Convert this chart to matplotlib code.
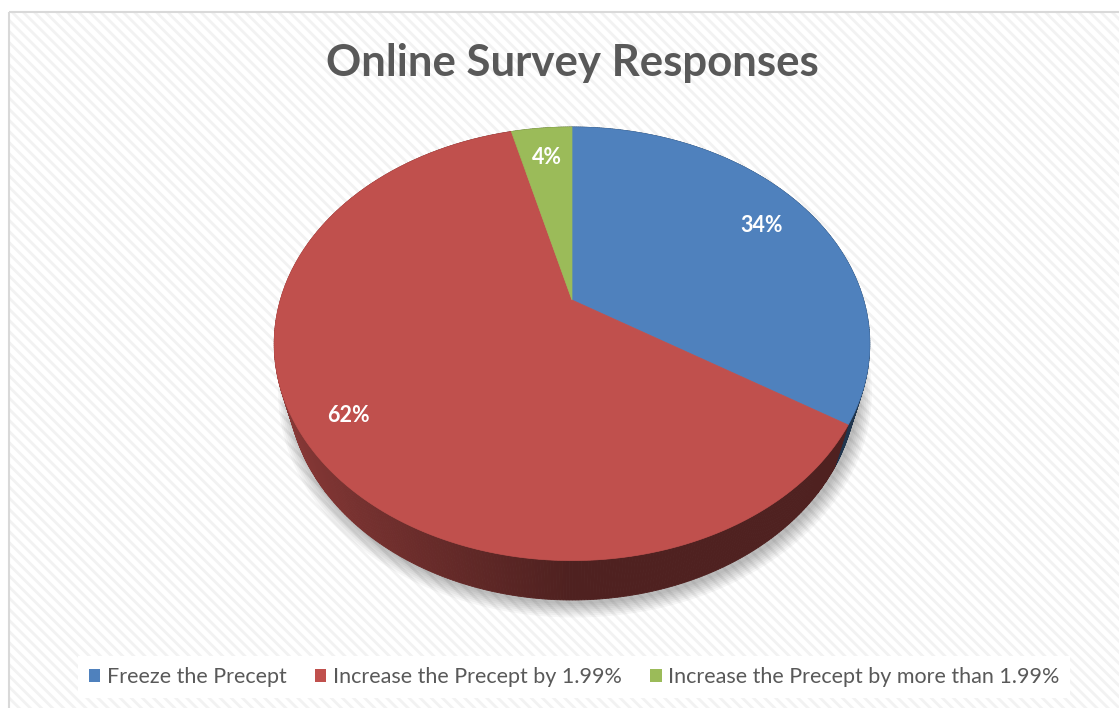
import numpy as np
import matplotlib
matplotlib.use('Agg')
import matplotlib.pyplot as plt
from matplotlib.patches import Polygon, Rectangle, Patch
from matplotlib.colors import to_rgb

# data
labels = ['Freeze the Precept', 'Increase the Precept by 1.99%',
          'Increase the Precept by more than 1.99%']
shares = [34, 62, 4]
colors = ['#4F81BD', '#C0504D', '#9BBB59']
label_r = [0.8, 0.85, 0.8]

plt.rcParams['font.family'] = ['Lato', 'DejaVu Sans']
plt.rcParams['hatch.linewidth'] = 2.0
plt.rcParams['hatch.color'] = '#F2F2F2'

W, H = 1119, 708
fig = plt.figure(figsize=(W / 100, H / 100), dpi=100)
ax = fig.add_axes([0, 0, 1, 1])
ax.set_xlim(0, W)
ax.set_ylim(H, 0)
ax.axis('off')

# chart area background with diagonal stripes
ax.add_patch(Rectangle((9, 12), W, H, facecolor='white', edgecolor='#F2F2F2',
                       hatch='\\\\\\', linewidth=0, zorder=0))
ax.add_patch(Rectangle((9, 12), W, H, fill=False, edgecolor='#D9D9D9',
                       linewidth=1.5, zorder=1))

# simple perspective for the tilted pie
cx, cy = 572, 300
F, d = 1012, 3.47
alpha = np.arcsin(0.713)
h = 0.22


def proj(theta, r=1.0, z=0.0):
    u = r * np.sin(theta)
    v = r * np.cos(theta)
    w = d + v * np.cos(alpha) - z * np.sin(alpha)
    x = cx + F * u / w
    y = cy - F * (v * np.sin(alpha) + z * np.cos(alpha)) / w
    return x, y


# soft shadow under the pie
tt = np.linspace(0, 2 * np.pi, 400)
for k in range(8):
    sx, sy = proj(tt, 1.0 + 0.006 * k, -h)
    ax.add_patch(Polygon(np.column_stack([sx + 3, sy + 4]), closed=True,
                         facecolor='#000000', alpha=0.035, linewidth=0, zorder=2))

bounds = np.deg2rad(np.concatenate([[0], np.cumsum(shares)]) * 3.6)

# outer side walls
strips = []
for i, c in enumerate(colors):
    a0, a1 = bounds[i], bounds[i + 1]
    n = max(2, int(np.rad2deg(a1 - a0) / 0.5))
    th = np.linspace(a0, a1, n + 1)
    base = np.array(to_rgb(c))
    for j in range(n):
        t0, t1 = th[j], th[j + 1]
        tm = 0.5 * (t0 + t1)
        shade = 0.41 + 0.33 * max(0.0, -np.sin(tm))
        col = np.clip(base * shade, 0, 1)
        x0, y0 = proj(t0)
        x1, y1 = proj(t1)
        x2, y2 = proj(t1, 1.0, -h)
        x3, y3 = proj(t0, 1.0, -h)
        strips.append((np.cos(tm), [[x0, y0], [x1, y1], [x2, y2], [x3, y3]], col))

strips.sort(key=lambda s: -s[0])
for _, pts, col in strips:
    ax.add_patch(Polygon(pts, closed=True, facecolor=col, edgecolor=col,
                         linewidth=0.6, zorder=3))

# top faces
for i, c in enumerate(colors):
    th = np.linspace(bounds[i], bounds[i + 1], 200)
    px, py = proj(th)
    pts = np.vstack([[cx, cy], np.column_stack([px, py])])
    ax.add_patch(Polygon(pts, closed=True, facecolor=c, edgecolor=c,
                         linewidth=0.5, zorder=4))

# data labels
for i, s in enumerate(shares):
    mid = 0.5 * (bounds[i] + bounds[i + 1])
    lx, ly = proj(mid, label_r[i])
    ax.text(lx, ly, f'{s}%', color='white', fontsize=15.5, fontweight='bold',
            ha='center', va='center', zorder=6)

ax.text(572, 63, 'Online Survey Responses', color='#595959', fontsize=31.5,
        fontweight='bold', ha='center', va='center', zorder=6)

handles = [Patch(facecolor=c, edgecolor='none') for c in colors]
leg = ax.legend(handles, labels, loc='center', bbox_to_anchor=(574 / W, 1 - 677 / H),
                ncol=3, frameon=True, fontsize=15.5, handlelength=0.55,
                handleheight=0.6, handletextpad=0.3, columnspacing=1.3,
                borderpad=0.5, fancybox=False)
leg.get_frame().set_facecolor('white')
leg.get_frame().set_edgecolor('none')
leg.get_frame().set_alpha(1)
for t in leg.get_texts():
    t.set_color('#595959')

fig.savefig('out.png', dpi=100)
